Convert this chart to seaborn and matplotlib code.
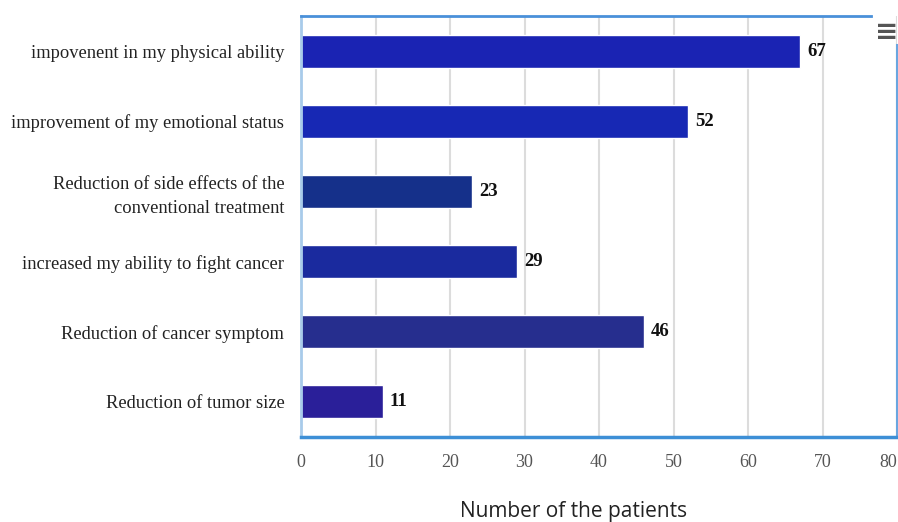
import numpy as np
import pandas as pd
import seaborn as sns
import matplotlib.pyplot as plt

categories = ['impovenent in my physical ability',
              'improvement of my emotional status',
              'Reduction of side effects of the\nconventional treatment',
              'increased my ability to fight cancer',
              'Reduction of cancer symptom',
              'Reduction of tumor size']
values = [67, 52, 23, 29, 46, 11]
bar_colors = ['#1a23b3', '#1728b4', '#15308a', '#1a2a9e', '#262e8e', '#2a1f99']
x_ticks = [0, 10, 20, 30, 40, 50, 60, 70, 80]

df = pd.DataFrame({'reason': categories, 'patients': values})

sns.set_style('white')
plt.rcParams['font.family'] = ['Liberation Serif', 'DejaVu Serif']

fig = plt.figure(figsize=(8.98, 5.22), dpi=100)
ax = fig.add_axes([301 / 898, 1 - 437 / 522, 596 / 898, 421 / 522])

sns.barplot(data=df, x='patients', y='reason', hue='reason', palette=bar_colors,
            legend=False, orient='h', width=0.47, saturation=1, ax=ax)

for c in ax.containers:
    ax.bar_label(c, padding=5, fontsize=13.5, fontweight='bold', color='#111111')

ax.set_xlim(0, 80)
ax.set_ylim(5.5, -0.5)
ax.set_xticks(x_ticks)
ax.xaxis.grid(True, color='#dcdcdc', linewidth=1.5)
ax.set_axisbelow(True)

ax.set_yticks(np.arange(-0.5, 6, 1), minor=True)
ax.tick_params(axis='y', which='minor', length=10, color='#b9d3ee', width=1.2)
ax.tick_params(axis='y', which='major', length=0, pad=12, labelsize=13.3, labelcolor='#222222')
ax.tick_params(axis='x', length=0, pad=12, labelsize=13, labelcolor='#555555')
for lab in ax.get_yticklabels():
    lab.set_linespacing(1.5)
ax.get_xticklabels()[-1].set_horizontalalignment('right')

ax.set_ylabel('')
ax.set_xlabel('')
fig.text(574 / 898, 1 - 512 / 522, 'Number of the patients', fontsize=15,
         family='Open Sans', color='#222222', ha='center', va='center')

for side in ['top', 'right', 'bottom', 'left']:
    ax.spines[side].set_visible(True)
ax.spines['bottom'].set_color('#3d8fd6')
ax.spines['bottom'].set_linewidth(2.5)
ax.spines['top'].set_color('#4a90d9')
ax.spines['top'].set_linewidth(2)
ax.spines['top'].set_bounds(0, 76.5)
ax.spines['right'].set_color('#6aa6e0')
ax.spines['right'].set_linewidth(1.5)
ax.spines['right'].set_bounds(-0.09, 5.5)
ax.spines['left'].set_color('#a8cbea')
ax.spines['left'].set_linewidth(2)

fig.text(887 / 898, 1 - 32 / 522, '\u2261', ha='center', va='center',
         fontsize=20, color='#555555', family='DejaVu Sans', fontweight='bold')

fig.savefig('out.png', dpi=100)
